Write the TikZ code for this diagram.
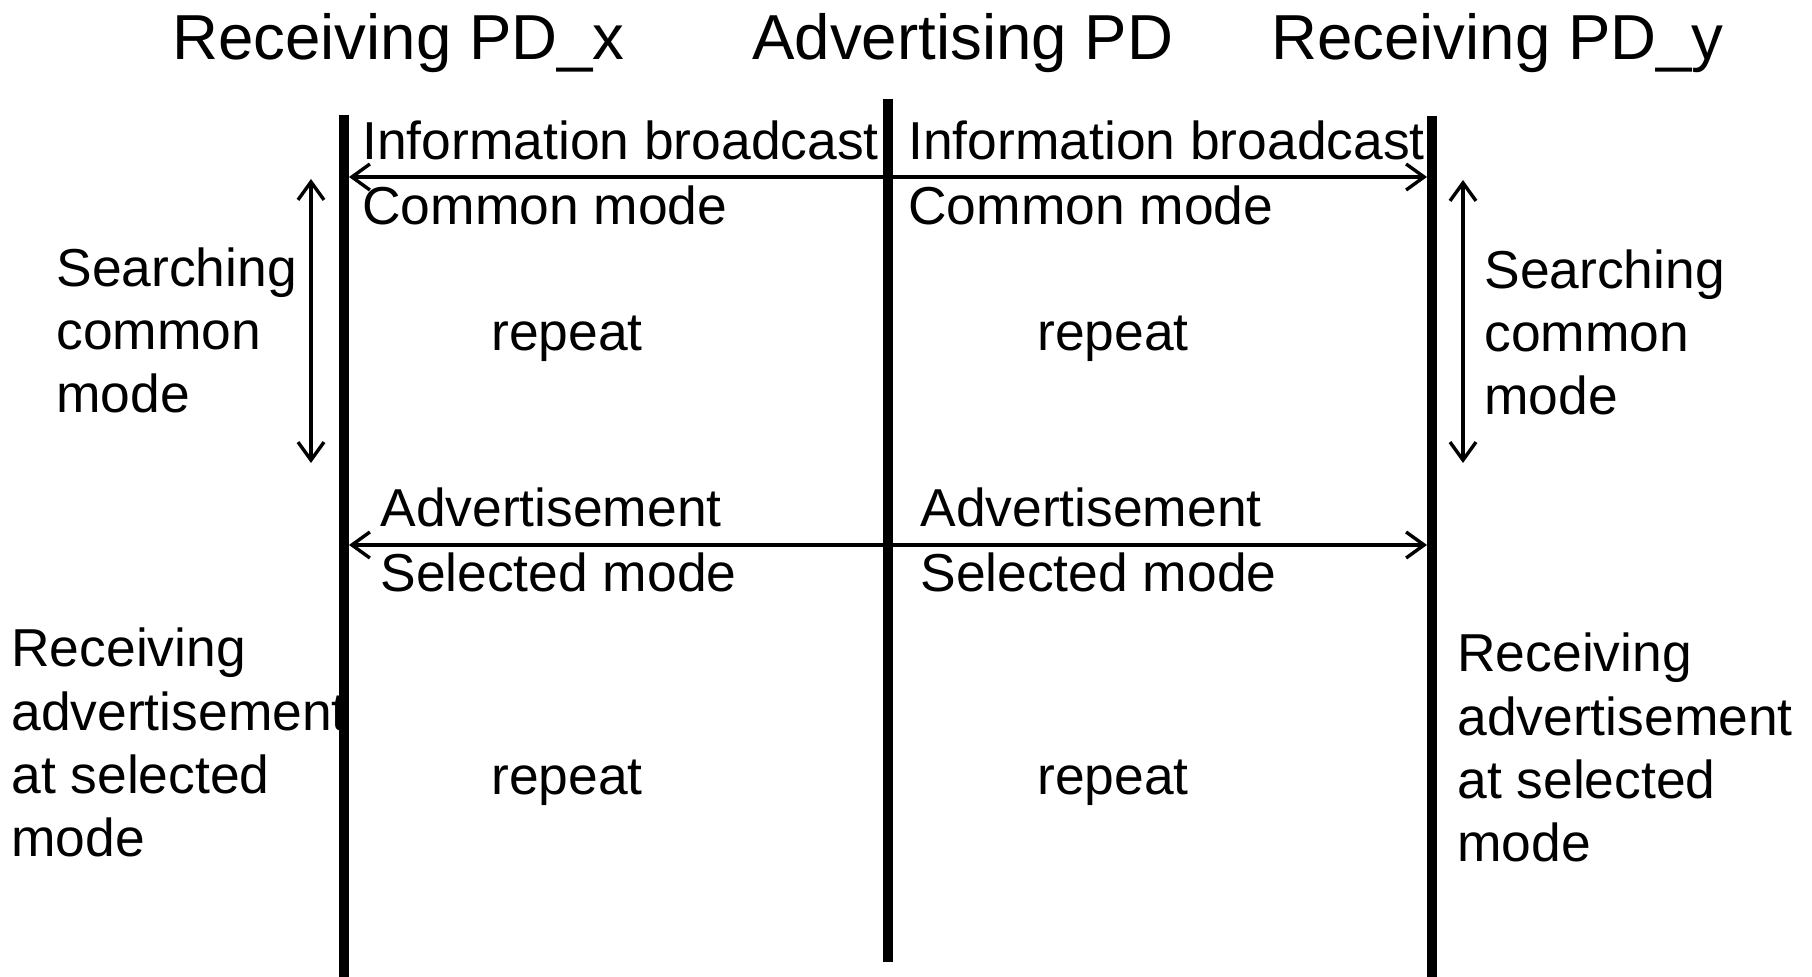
\documentclass[tikz,border=0pt]{standalone}
\usepackage{fontspec}
\setmainfont{Liberation Sans}
\usepackage{tikz}
\usetikzlibrary{arrows.meta}

\begin{document}
\begin{tikzpicture}[x=0.5pt, y=-0.5pt,
  lifeline/.style={line width=5pt},
  msg/.style={line width=1.7pt, -{Straight Barb[length=9pt,width=13pt]}},
  span/.style={line width=1.7pt, {Straight Barb[length=9pt,width=13pt]}-{Straight Barb[length=9pt,width=13pt]}},
  head/.style={inner sep=0pt, anchor=base west, font=\fontsize{31.8}{38}\selectfont},
  txt/.style={inner sep=0pt, anchor=base west, align=left, font=\fontsize{26.7}{31.7}\selectfont}]
\useasboundingbox (0,0) rectangle (1812,977);
\node[head] (hx) at (172,60) {Receiving PD\_x};
\node[head] (hadv) at (752,60) {Advertising PD};
\node[head] (hy) at (1271,60) {Receiving PD\_y};
\node[txt] (infox) at (362,160) {Information broadcast};%
\node[txt] (comx) at (362,225) {Common mode};%
\node[txt] (infoy) at (908,160) {Information broadcast};%
\node[txt] (comy) at (908,225) {Common mode};%
\node[txt] (advx) at (380,527) {Advertisement};%
\node[txt] (selx) at (380,592) {Selected mode};%
\node[txt] (advy) at (920,527) {Advertisement};%
\node[txt] (sely) at (920,592) {Selected mode};%
\node[txt] (rep1x) at (491,351) {repeat};%
\node[txt] (rep1y) at (1037,351) {repeat};%
\node[txt] (rep2x) at (491,795) {repeat};%
\node[txt] (rep2y) at (1037,795) {repeat};%
\node[txt] (searchx) at (56,413) {Searching\\common\\mode};%
\node[txt] (searchy) at (1484,415) {Searching\\common\\mode};%
\node[txt] (recvx) at (11,857) {Receiving\\advertisement\\at selected\\mode};%
\node[txt] (recvy) at (1457,862) {Receiving\\advertisement\\at selected\\mode};%
\coordinate (xtop) at (344,115); \coordinate (xbot) at (344,977);
\coordinate (atop) at (888,99); \coordinate (abot) at (888,962);
\coordinate (ytop) at (1432,116); \coordinate (ybot) at (1432,977);
\draw[lifeline] (xtop) -- (xbot);
\draw[lifeline] (atop) -- (abot);
\draw[lifeline] (ytop) -- (ybot);
\coordinate (a1) at (888,177); \coordinate (x1) at (349,177); \coordinate (y1) at (1427,177);
\coordinate (a2) at (888,545); \coordinate (x2) at (349,545); \coordinate (y2) at (1427,545);
\draw[msg] (a1) -- (x1);
\draw[msg] (a1) -- (y1);
\draw[msg] (a2) -- (x2);
\draw[msg] (a2) -- (y2);
\coordinate (sx1) at (311,179); \coordinate (sx2) at (311,463);
\coordinate (sy1) at (1463,180); \coordinate (sy2) at (1463,463);
\draw[span] (sx1) -- (sx2);
\draw[span] (sy1) -- (sy2);
\end{tikzpicture}
\end{document}
